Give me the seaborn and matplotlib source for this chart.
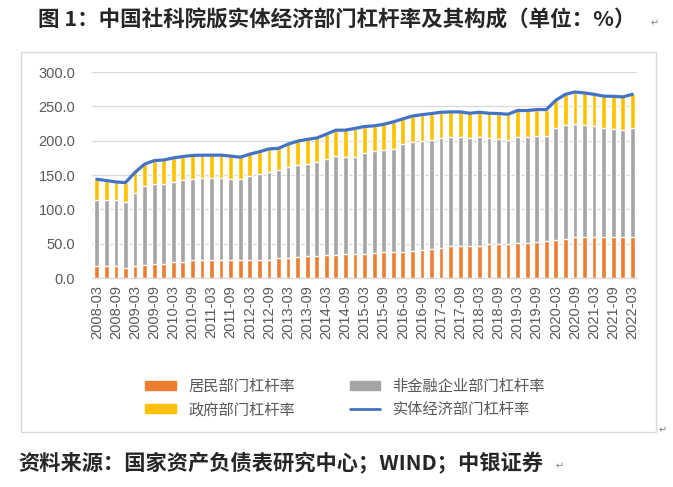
import numpy as np
import pandas as pd
import seaborn as sns
import matplotlib.pyplot as plt
from matplotlib.patches import Patch, Rectangle
from matplotlib.lines import Line2D

# quarterly leverage ratios (%)
quarters = [f'{y}-{m:02d}' for y in range(2008, 2023) for m in (3, 6, 9, 12)][:57]
household = [17, 17, 17, 15, 17, 18.4, 21, 21, 24, 24, 25.6, 25.6, 25.6, 25.6, 25.6,
             25.6, 25.6, 27, 27, 28.6, 28.6, 30, 31.5, 31.5, 33, 33, 34.4, 34.4, 34.4,
             35.8, 37.3, 37.3, 38.7, 40, 41.6, 43, 44.5, 46, 46, 47.4, 47.4, 49, 50.3,
             50.3, 51.8, 51.8, 53.2, 54.7, 56, 57.6, 60.5, 60.5, 60.5, 60.5, 60.5, 60.5, 60.5]
corporate = [97, 97, 96, 96, 107, 116.1, 116.5, 116.5, 116, 119, 119.4, 120.4, 120.4,
             120.4, 119.4, 119.4, 122.4, 125, 128, 128.4, 133.4, 135, 135, 136.9, 141,
             145, 142.3, 142.3, 148.1, 149.6, 149.5, 151, 156.8, 157.5, 158.4, 158.3,
             159.5, 159.7, 159.7, 156.6, 158.3, 155, 152.5, 150.7, 153.9, 153.9, 153.8,
             152.3, 162.8, 165.4, 164.1, 162.5, 161.2, 158.3, 156.8, 155.4, 158.3]
government = [30, 28, 27, 28, 30, 31.5, 33.5, 34.5, 35, 34, 33.6, 33, 33, 33, 32.6, 31,
              32.5, 32, 33, 32, 33, 34.4, 35.5, 35.6, 35.6, 37.4, 38.7, 41.3, 38.2, 36.3,
              37.2, 39.2, 36.3, 38.5, 38, 38.3, 37.5, 36.3, 36.3, 36, 35.8, 36, 36.8,
              37.6, 38.3, 38.3, 38.4, 38.4, 40.2, 44.6, 46.4, 46.6, 45.9, 46.2, 47.4,
              47.9, 48.8]
series_names = ['居民部门杠杆率', '非金融企业部门杠杆率', '政府部门杠杆率', '实体经济部门杠杆率']

df = pd.DataFrame({'q': quarters, 'hh': household, 'corp': corporate, 'gov': government})
df['hh_corp'] = df['hh'] + df['corp']
df['total'] = df['hh_corp'] + df['gov']

c_hh, c_corp, c_gov, c_line = '#ED7D31', '#A5A5A5', '#FFC000', '#4472C4'
txt = '#595959'
grid = '#D9D9D9'
cjk = ['Noto Sans CJK SC', 'DejaVu Sans']

sns.set_style('white')
plt.rcParams['font.family'] = ['Liberation Sans', 'Noto Sans CJK SC', 'DejaVu Sans']

fig = plt.figure(figsize=(6.73, 4.87), dpi=100)
ax = fig.add_axes([0.1367, 0.429, 0.81, 0.423])

# stacked bars drawn as overlapping cumulative heights
sns.barplot(data=df, x='q', y='total', color=c_gov, saturation=1, width=0.5,
            errorbar=None, ax=ax, zorder=2)
sns.barplot(data=df, x='q', y='hh_corp', color=c_corp, saturation=1, width=0.5,
            errorbar=None, ax=ax, zorder=2)
sns.barplot(data=df, x='q', y='hh', color=c_hh, saturation=1, width=0.5,
            errorbar=None, ax=ax, zorder=2)
sns.lineplot(x=np.arange(len(df)), y=df['total'].values, color=c_line, lw=2.3,
             ax=ax, zorder=3)

ax.set_ylim(0, 300)
ax.set_xlim(-0.5, len(df) - 0.5)
ax.set_yticks(np.arange(0, 301, 50))
ax.set_yticklabels([f'{v:.1f}' for v in np.arange(0, 301, 50)])
ax.yaxis.grid(True, color=grid, lw=0.9, zorder=0)
ax.set_axisbelow(True)
for s in ['top', 'right', 'left']:
    ax.spines[s].set_visible(False)
ax.spines['bottom'].set_color(grid)
ax.spines['bottom'].set_linewidth(0.9)

ticks = np.arange(0, len(df), 2)
ax.set_xticks(ticks)
ax.set_xticklabels([quarters[i] for i in ticks], rotation=90)
ax.set_xticks(np.arange(-0.5, len(df), 1), minor=True)
ax.tick_params(axis='x', which='major', length=0, pad=5, labelsize=10.5, labelcolor=txt)
ax.tick_params(axis='x', which='minor', length=4, color=grid, width=0.9)
ax.tick_params(axis='y', length=0, pad=12, labelsize=10.5, labelcolor=txt)
ax.set_xlabel('')
ax.set_ylabel('')

handles = [Patch(color=c_hh), Patch(color=c_gov), Patch(color=c_corp),
           Line2D([], [], color=c_line, lw=2)]
labels = [series_names[0], series_names[2], series_names[1], series_names[3]]
fig.legend(handles, labels, ncol=2, loc='center', bbox_to_anchor=(0.513, 0.182),
           frameon=False, fontsize=11, labelcolor=txt, handlelength=2.0,
           handleheight=0.55, columnspacing=3.6, labelspacing=0.6)

# chart area border
fig.add_artist(Rectangle((0.0312, 0.1129), 0.9435, 0.780, transform=fig.transFigure,
                         fill=False, edgecolor=grid, lw=1))

fig.text(0.056, 0.959, '图 1：中国社科院版实体经济部门杠杆率及其构成（单位：%）',
         fontsize=15.5, fontweight='bold', va='center', ha='left', family=cjk)
fig.text(0.027, 0.049, '资料来源：国家资产负债表研究中心；WIND；中银证券',
         fontsize=15.3, fontweight='bold', va='center', ha='left', family=cjk)

# paragraph marks from the source document
for x, y in [(0.966, 0.953), (0.978, 0.117), (0.826, 0.043)]:
    fig.text(x, y, '↵', fontsize=7, color='#808080', va='center', ha='left',
             family=['DejaVu Sans'])

fig.savefig('out.png', dpi=100)
